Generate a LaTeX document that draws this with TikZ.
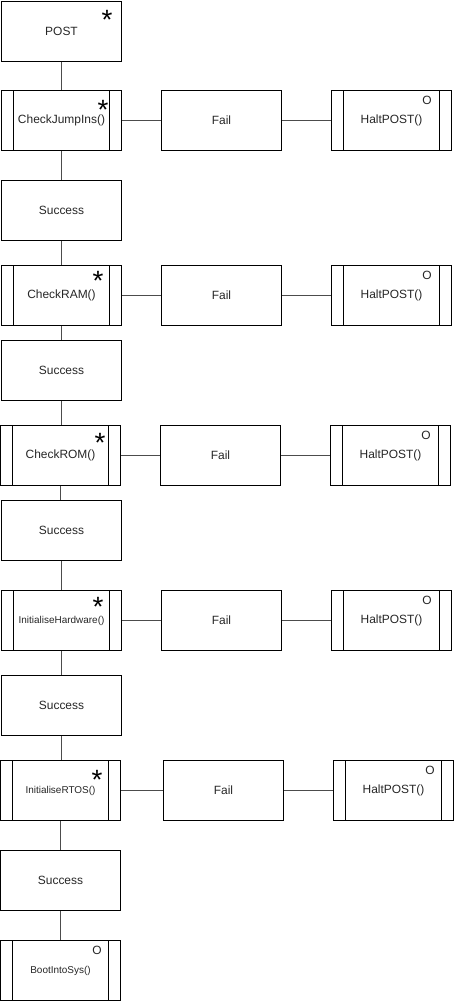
\documentclass[tikz,border=0pt]{standalone}
\usepackage{fontspec}
\setmainfont{Liberation Sans}
\newcommand{\mystar}{\raisebox{-0.57em}[0pt][0pt]{*}}
\begin{document}
\begin{tikzpicture}[x=1bp,y=-1bp,
  box/.style={draw=black, line width=1bp, rectangle, minimum width=120bp, minimum height=60bp, inner sep=0pt, anchor=north west, text=black!85, font=\fontsize{12}{14}\selectfont},
  proc/.style={box, path picture={\draw[line width=1bp]
     ([xshift=12bp]path picture bounding box.north west) -- ([xshift=12bp]path picture bounding box.south west)
     ([xshift=-12bp]path picture bounding box.north east) -- ([xshift=-12bp]path picture bounding box.south east);}},
  small/.style={font=\fontsize{10}{12}\selectfont},
  starlbl/.style={font=\fontsize{28}{28}\selectfont, inner sep=0pt, minimum height=9bp, anchor=center},
  olbl/.style={font=\fontsize{12}{14}\selectfont, text=black!85, inner sep=0pt, anchor=base, yshift=-4.3bp},
  conn/.style={draw=black!70, line width=1bp}
]
\useasboundingbox (0,0) rectangle (455,1002);
% main column
\node[box]  (post) at (1,0.5) {POST};
\node[proc] (cj)   at (1,90)  {CheckJumpIns()};
\node[box]  (s1)   at (1,180) {Success};
\node[proc] (cram) at (1,265) {CheckRAM()};
\node[box]  (s2)   at (1,340) {Success};
\node[proc] (crom) at (0,425) {CheckROM()};
\node[box]  (s3)   at (1,500) {Success};
\node[proc,small] (ih) at (1,590) {InitialiseHardware()};
\node[box]  (s4)   at (1,675) {Success};
\node[proc,small] (rt) at (0,760) {InitialiseRTOS()};
\node[box]  (s5)   at (0,850) {Success};
\node[proc,small] (boot) at (0,940) {BootIntoSys()};
% fail column
\node[box] (f1) at (161,90)  {Fail};
\node[box] (f2) at (161,265) {Fail};
\node[box] (f3) at (160,425) {Fail};
\node[box] (f4) at (161,590) {Fail};
\node[box] (f5) at (163,760) {Fail};
% halt column
\node[proc] (h1) at (331,90)  {HaltPOST()};
\node[proc] (h2) at (331,265) {HaltPOST()};
\node[proc] (h3) at (330,425) {HaltPOST()};
\node[proc] (h4) at (331,590) {HaltPOST()};
\node[proc] (h5) at (333,760) {HaltPOST()};
% stars
\node[starlbl] (stpost) at (107,14)  {\mystar};
\node[starlbl] (stcj)   at (103,104) {\mystar};
\node[starlbl] (stcram) at (98,275)  {\mystar};
\node[starlbl] (stcrom) at (100,437) {\mystar};
\node[starlbl] (stih)   at (98,601)  {\mystar};
\node[starlbl] (strt)   at (97,774)  {\mystar};
% O marks
\node[olbl] (oh1) at (427,100) {O};
\node[olbl] (oh2) at (427,275) {O};
\node[olbl] (oh3) at (426,435) {O};
\node[olbl] (oh4) at (427,600) {O};
\node[olbl] (oh5) at (430,770) {O};
\node[olbl] (oboot) at (97,950) {O};
% vertical connectors
\foreach \a/\b in {post/cj, cj/s1, s1/cram, cram/s2, s2/crom, crom/s3, s3/ih, ih/s4, s4/rt, rt/s5, s5/boot}
  \draw[conn] (\a.south) -- (\a.south |- \b.north);
% horizontal connectors
\foreach \a/\b/\c in {cj/f1/h1, cram/f2/h2, crom/f3/h3, ih/f4/h4, rt/f5/h5}{
  \draw[conn] (\a.east) -- (\b.west);
  \draw[conn] (\b.east) -- (\c.west);
}
\end{tikzpicture}
\end{document}
